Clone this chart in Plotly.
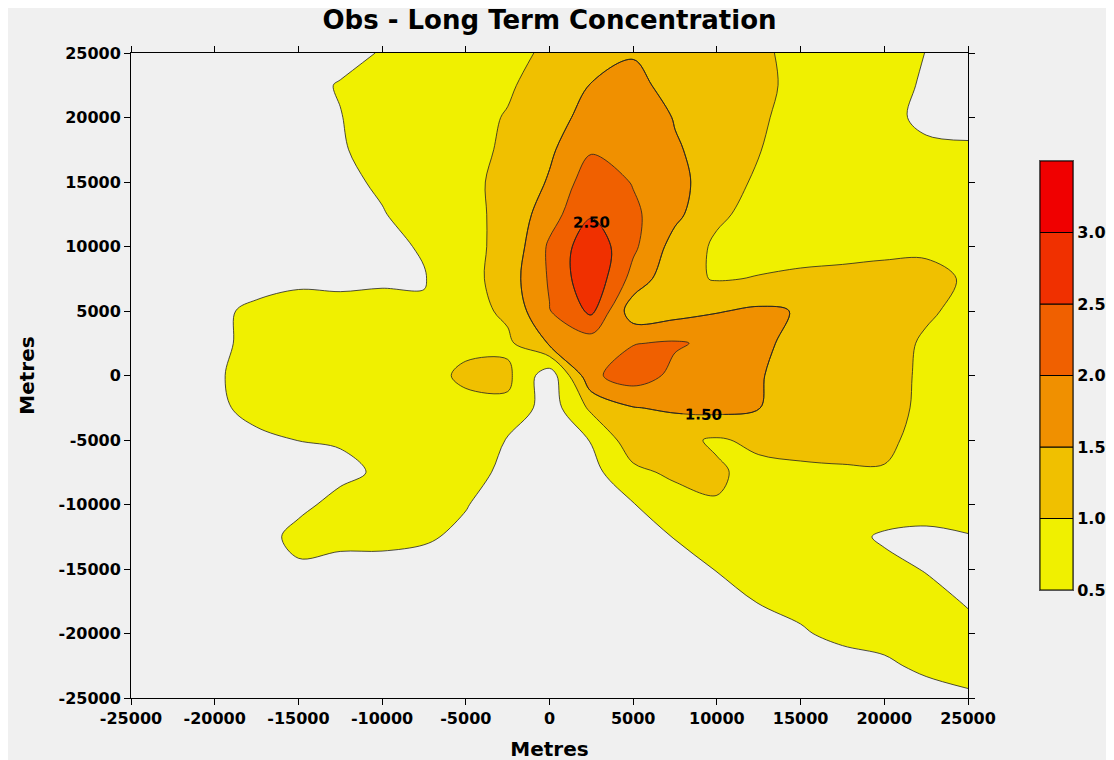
import plotly.graph_objects as go

# grid (metres)
x_m = [-25000, -22500, -20000, -17500, -15000, -12500, -10000, -7500, -5000, -2500, 0,
       2500, 5000, 7500, 10000, 12500, 15000, 17500, 20000, 22500, 25000]
y_top_down = [25000, 22500, 20000, 17500, 15000, 12500, 10000, 7500, 5000, 2500, 0,
              -2500, -5000, -7500, -10000, -12500, -15000, -17500, -20000, -22500, -25000]

# concentration, one row per y (top row first)
conc = [
    [0.20, 0.20, 0.20, 0.25, 0.30, 0.40, 0.52, 0.70, 0.80, 0.90, 1.06, 1.30, 1.45, 1.30, 1.15, 1.03, 0.95, 0.85, 0.75, 0.49, 0.35],
    [0.20, 0.20, 0.25, 0.30, 0.40, 0.52, 0.65, 0.75, 0.85, 0.96, 1.15, 1.52, 1.70, 1.25, 1.12, 1.06, 0.93, 0.80, 0.65, 0.45, 0.30],
    [0.20, 0.20, 0.25, 0.30, 0.40, 0.49, 0.65, 0.78, 0.90, 1.02, 1.30, 1.68, 1.85, 1.47, 1.20, 1.03, 0.92, 0.80, 0.65, 0.38, 0.30],
    [0.20, 0.22, 0.28, 0.33, 0.40, 0.47, 0.62, 0.78, 0.90, 1.05, 1.42, 1.95, 1.98, 1.55, 1.30, 1.01, 0.92, 0.82, 0.70, 0.60, 0.58],
    [0.20, 0.22, 0.28, 0.33, 0.38, 0.42, 0.55, 0.75, 0.93, 1.08, 1.55, 2.30, 1.97, 1.62, 1.30, 0.90, 0.80, 0.72, 0.65, 0.60, 0.55],
    [0.20, 0.22, 0.28, 0.33, 0.38, 0.44, 0.48, 0.65, 0.90, 1.10, 1.80, 2.45, 2.10, 1.62, 1.08, 0.85, 0.78, 0.75, 0.72, 0.70, 0.68],
    [0.20, 0.22, 0.28, 0.33, 0.38, 0.42, 0.42, 0.53, 0.90, 1.10, 2.08, 2.85, 2.10, 1.30, 0.92, 0.85, 0.88, 0.90, 0.92, 0.92, 0.85],
    [0.20, 0.25, 0.30, 0.35, 0.45, 0.42, 0.45, 0.48, 0.80, 1.25, 2.05, 2.90, 1.82, 1.12, 0.97, 1.02, 1.06, 1.08, 1.11, 1.13, 0.95],
    [0.20, 0.30, 0.42, 0.58, 0.60, 0.62, 0.62, 0.54, 0.80, 1.10, 1.98, 2.60, 1.20, 1.30, 1.47, 1.58, 1.47, 1.30, 1.20, 1.05, 0.90],
    [0.20, 0.30, 0.42, 0.60, 0.68, 0.70, 0.72, 0.75, 0.90, 0.90, 1.55, 1.75, 1.98, 2.05, 1.90, 1.60, 1.35, 1.22, 1.15, 0.95, 0.85],
    [0.20, 0.30, 0.45, 0.65, 0.72, 0.75, 0.78, 0.85, 1.08, 1.10, 0.20, 1.90, 2.25, 1.88, 1.65, 1.52, 1.38, 1.25, 1.10, 0.95, 0.85],
    [0.20, 0.30, 0.42, 0.62, 0.70, 0.75, 0.78, 0.82, 0.88, 0.90, 0.25, 1.10, 1.48, 1.58, 1.65, 1.51, 1.35, 1.20, 1.08, 0.95, 0.85],
    [0.20, 0.25, 0.30, 0.42, 0.505, 0.53, 0.62, 0.70, 0.68, 0.48, 0.25, 0.52, 1.30, 1.10, 0.95, 1.10, 1.15, 1.15, 1.15, 0.75, 0.70],
    [0.20, 0.22, 0.25, 0.30, 0.35, 0.42, 0.55, 0.60, 0.58, 0.45, 0.22, 0.35, 0.88, 1.10, 1.05, 0.88, 0.92, 0.95, 0.95, 0.78, 0.72],
    [0.15, 0.18, 0.22, 0.30, 0.42, 0.60, 0.65, 0.65, 0.52, 0.30, 0.20, 0.25, 0.48, 0.77, 0.98, 0.82, 0.78, 0.75, 0.72, 0.70, 0.68],
    [0.12, 0.15, 0.20, 0.35, 0.60, 0.60, 0.58, 0.55, 0.42, 0.25, 0.15, 0.15, 0.30, 0.52, 0.70, 0.72, 0.70, 0.62, 0.45, 0.40, 0.48],
    [0.10, 0.12, 0.18, 0.30, 0.45, 0.38, 0.40, 0.35, 0.25, 0.15, 0.12, 0.10, 0.15, 0.30, 0.52, 0.62, 0.65, 0.65, 0.60, 0.48, 0.35],
    [0.10, 0.10, 0.12, 0.15, 0.20, 0.22, 0.22, 0.20, 0.15, 0.12, 0.10, 0.10, 0.10, 0.15, 0.30, 0.52, 0.62, 0.68, 0.68, 0.62, 0.47],
    [0.10, 0.10, 0.10, 0.12, 0.12, 0.12, 0.12, 0.12, 0.10, 0.10, 0.10, 0.10, 0.10, 0.12, 0.18, 0.30, 0.45, 0.62, 0.66, 0.65, 0.60],
    [0.10, 0.10, 0.10, 0.10, 0.10, 0.10, 0.10, 0.10, 0.10, 0.10, 0.10, 0.10, 0.10, 0.10, 0.12, 0.15, 0.22, 0.30, 0.42, 0.60, 0.62],
    [0.10, 0.10, 0.10, 0.10, 0.10, 0.10, 0.10, 0.10, 0.10, 0.10, 0.10, 0.10, 0.10, 0.10, 0.10, 0.12, 0.15, 0.15, 0.20, 0.30, 0.45],
]

axis_ticks = [-25000, -20000, -15000, -10000, -5000, 0, 5000, 10000, 15000, 20000, 25000]
axis_tick_text = [str(v) for v in axis_ticks]

levels = [0.5, 1.0, 1.5, 2.0, 2.5, 3.0, 3.5]
band_colors = ['#f0f000', '#f0c000', '#f09000', '#f06000', '#f03000', '#f00000']
level_text = ['0.50', '1.00', '1.50', '2.00', '2.50', '3.00']
labelled_levels = [1.5, 2.5]

bg = '#f0f0f0'
font = 'DejaVu Sans'

y_m = y_top_down[::-1]
z = conc[::-1]

# stepped colorscale; first step = colour below 0.5 (left as background)
nb = len(levels)
scale = [[0, bg], [1 / (2 * nb), bg]]
for k, c in enumerate(band_colors):
    scale += [[(2 * k + 1) / (2 * nb), c], [(2 * k + 3) / (2 * nb), c]]
scale.append([1, band_colors[-1]])

paper_w = 1114 - 123 - 8
main_w = 837 / paper_w  # plot area width as paper fraction

fig = go.Figure()
fig.add_trace(go.Contour(
    x=x_m, y=y_m, z=z,
    autocontour=False,
    contours=dict(start=levels[0], end=levels[-1], size=0.5, coloring='fill'),
    colorscale=scale, showscale=False,
    line=dict(color='#222222', width=0.8, smoothing=1),
    hoverinfo='skip'))

# second pass only to put the 1.50 / 2.50 labels on the lines
fig.add_trace(go.Contour(
    x=x_m, y=y_m, z=z,
    autocontour=False,
    contours=dict(start=labelled_levels[0], end=labelled_levels[-1], size=1.0,
                  coloring='none', showlabels=True, labelformat='.2f',
                  labelfont=dict(family=font, size=15, color='black', weight='bold')),
    line=dict(color='#222222', width=0.8, smoothing=1),
    showscale=False, hoverinfo='skip'))

# colour key on the right
fig.add_trace(go.Bar(
    x=[0] * len(band_colors),
    y=[levels[i + 1] - levels[i] for i in range(len(band_colors))],
    base=levels[:-1],
    width=1,
    marker=dict(color=band_colors, line=dict(color='black', width=1)),
    xaxis='x2', yaxis='y2', showlegend=False, hoverinfo='skip'))

tick_font = dict(family=font, size=16, color='black', weight='bold')
ax_common = dict(showline=True, linecolor='black', linewidth=1, mirror='ticks',
                 ticks='outside', ticklen=6, tickcolor='black', showgrid=False,
                 zeroline=False, tickfont=tick_font, automargin=False,
                 tickmode='array', tickvals=axis_ticks, ticktext=axis_tick_text)

fig.update_layout(
    width=1114, height=760,
    margin=dict(l=123, r=8, t=45, b=70),
    paper_bgcolor=bg, plot_bgcolor=bg,
    showlegend=False,
    title=dict(text='Obs - Long Term Concentration', x=main_w / 2, xref='paper',
               xanchor='center', y=1 - 12 / 760, yanchor='middle',
               font=dict(family=font, size=26, color='black', weight='bold')),
    xaxis=dict(domain=[0, main_w], range=[-25000, 25000],
               title=dict(text='Metres', standoff=14,
                          font=dict(family=font, size=20, color='black', weight='bold')),
               **ax_common),
    yaxis=dict(range=[-25000, 25000],
               title=dict(text='Metres', standoff=18,
                          font=dict(family=font, size=20, color='black', weight='bold')),
               **ax_common),
    xaxis2=dict(domain=[909 / paper_w, 942 / paper_w], range=[-0.5, 0.5], anchor='y2',
                showticklabels=False, showgrid=False, zeroline=False, automargin=False,
                showline=True, linecolor='#555555', mirror=True),
    yaxis2=dict(domain=[108 / 645, 537 / 645], range=[levels[0], levels[-1]], anchor='x2',
                side='right', tickvals=levels[:-1], ticktext=level_text, automargin=False,
                tickfont=tick_font, ticks='', showgrid=False, zeroline=False,
                showline=True, linecolor='#555555', mirror=True),
)

fig.write_html("out.html")
